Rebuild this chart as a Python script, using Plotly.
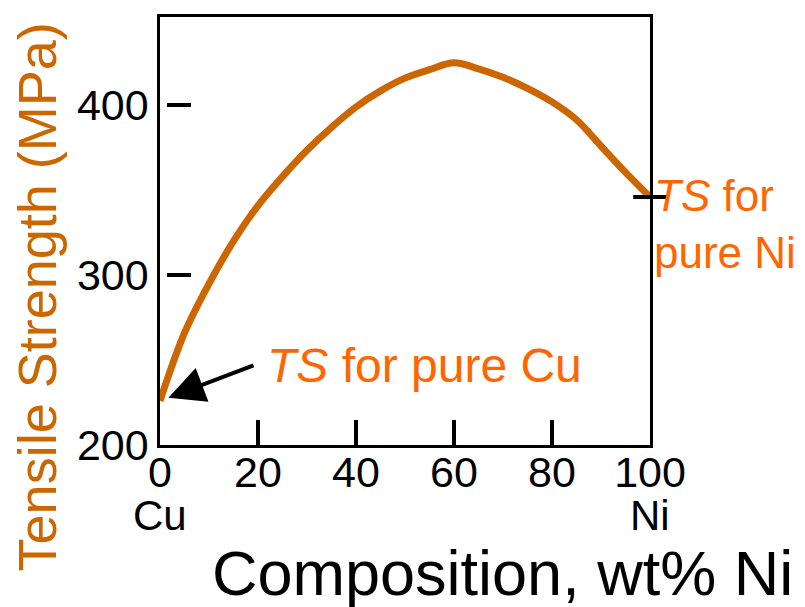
import plotly.graph_objects as go

# Data
composition = [0, 5, 10, 15, 20, 25, 30, 35, 40, 45, 50, 55, 60, 65, 70, 75, 80, 85, 90, 95, 100]
tensile_strength = [226, 266, 295, 320, 341, 358, 373.5, 387, 399, 408.5, 416, 421, 425, 421.5, 416.5, 410, 402, 391.5, 376, 360.5, 346]
x_tickvals = [0, 20, 40, 60, 80, 100]
x_ticktext = ["0", "20", "40", "60", "80", "100"]
end_labels = ["Cu", "Ni"]
y_labelvals = [200, 300, 400]
y_tickvals = [300, 400]
ts_cu = tensile_strength[0]
ts_ni = tensile_strength[-1]

FONT = "Liberation Sans, Arial, sans-serif"
CURVE = "#CC6600"
LABEL = "#FF6600"

fig = go.Figure()
fig.add_trace(go.Scatter(
    x=composition, y=tensile_strength, mode="lines",
    line=dict(color=CURVE, width=7, shape="spline"),
    hoverinfo="skip", showlegend=False,
))
# tick mark for pure Ni on the right border
fig.add_trace(go.Scatter(
    x=[composition[-1]], y=[ts_ni], mode="markers", yaxis="y2",
    marker=dict(symbol="line-ew", size=24, line=dict(color="black", width=4)),
    hoverinfo="skip", showlegend=False, cliponaxis=False,
))

fig.update_layout(
    width=797, height=599,
    margin=dict(l=152, r=155, t=6, b=162),
    paper_bgcolor="white", plot_bgcolor="white",
    font=dict(family=FONT, color="black", size=43),
    xaxis=dict(
        range=[0, 100], tickvals=x_tickvals, ticktext=x_ticktext,
        ticks="inside", ticklen=25, tickwidth=4, tickcolor="black",
        showline=True, linecolor="black", linewidth=2.5, mirror=True,
        showgrid=False, zeroline=False, ticklabelstandoff=-12,
        tickfont=dict(size=43, family=FONT),
    ),
    yaxis=dict(
        range=[200, 452], tickvals=y_labelvals, ticks="",
        showline=True, linecolor="black", linewidth=2.5, mirror=True,
        showgrid=False, zeroline=False,
        tickfont=dict(size=43, family=FONT),
    ),
    yaxis2=dict(
        range=[200, 452], overlaying="y", anchor="free", position=0.012,
        tickvals=y_tickvals, ticks="inside", ticklen=24, tickwidth=4, tickcolor="black",
        showticklabels=False, showline=False, showgrid=False, zeroline=False,
    ),
)

for xv, lab in zip([x_tickvals[0], x_tickvals[-1]], end_labels):
    fig.add_annotation(
        text=lab, x=xv, xref="x", yref="paper", y=-0.165,
        xanchor="center", yanchor="middle", showarrow=False,
        font=dict(size=42, color="black", family=FONT),
    )

fig.add_annotation(
    text="Tensile Strength (MPa)", textangle=-90,
    xref="paper", yref="paper", x=-0.252, y=0.346,
    xanchor="center", yanchor="middle", showarrow=False,
    font=dict(size=54, color=CURVE, family=FONT),
)
fig.add_annotation(
    text="Composition, wt% Ni",
    xref="paper", yref="paper", x=1.296, y=-0.30,
    xanchor="right", yanchor="middle", showarrow=False,
    font=dict(size=63, color="black", family=FONT),
)
fig.add_annotation(
    text="<i>TS</i> for pure Cu",
    xref="paper", yref="paper", x=0.214, y=0.186,
    xanchor="left", yanchor="middle", showarrow=False,
    font=dict(size=48, color=LABEL, family=FONT),
)
fig.add_annotation(
    text="<i>TS</i> for<br>pure Ni", align="left",
    xref="paper", yref="paper", x=1.004, y=0.517,
    xanchor="left", yanchor="middle", showarrow=False,
    font=dict(size=44, color=LABEL, family=FONT),
)
fig.add_annotation(
    text="", x=composition[0], y=ts_cu, xref="x", yref="y",
    showarrow=True, arrowhead=2, arrowsize=1.8, arrowwidth=4, arrowcolor="black",
    ax=95, ay=-36, standoff=9,
)

fig.write_html("out.html")
